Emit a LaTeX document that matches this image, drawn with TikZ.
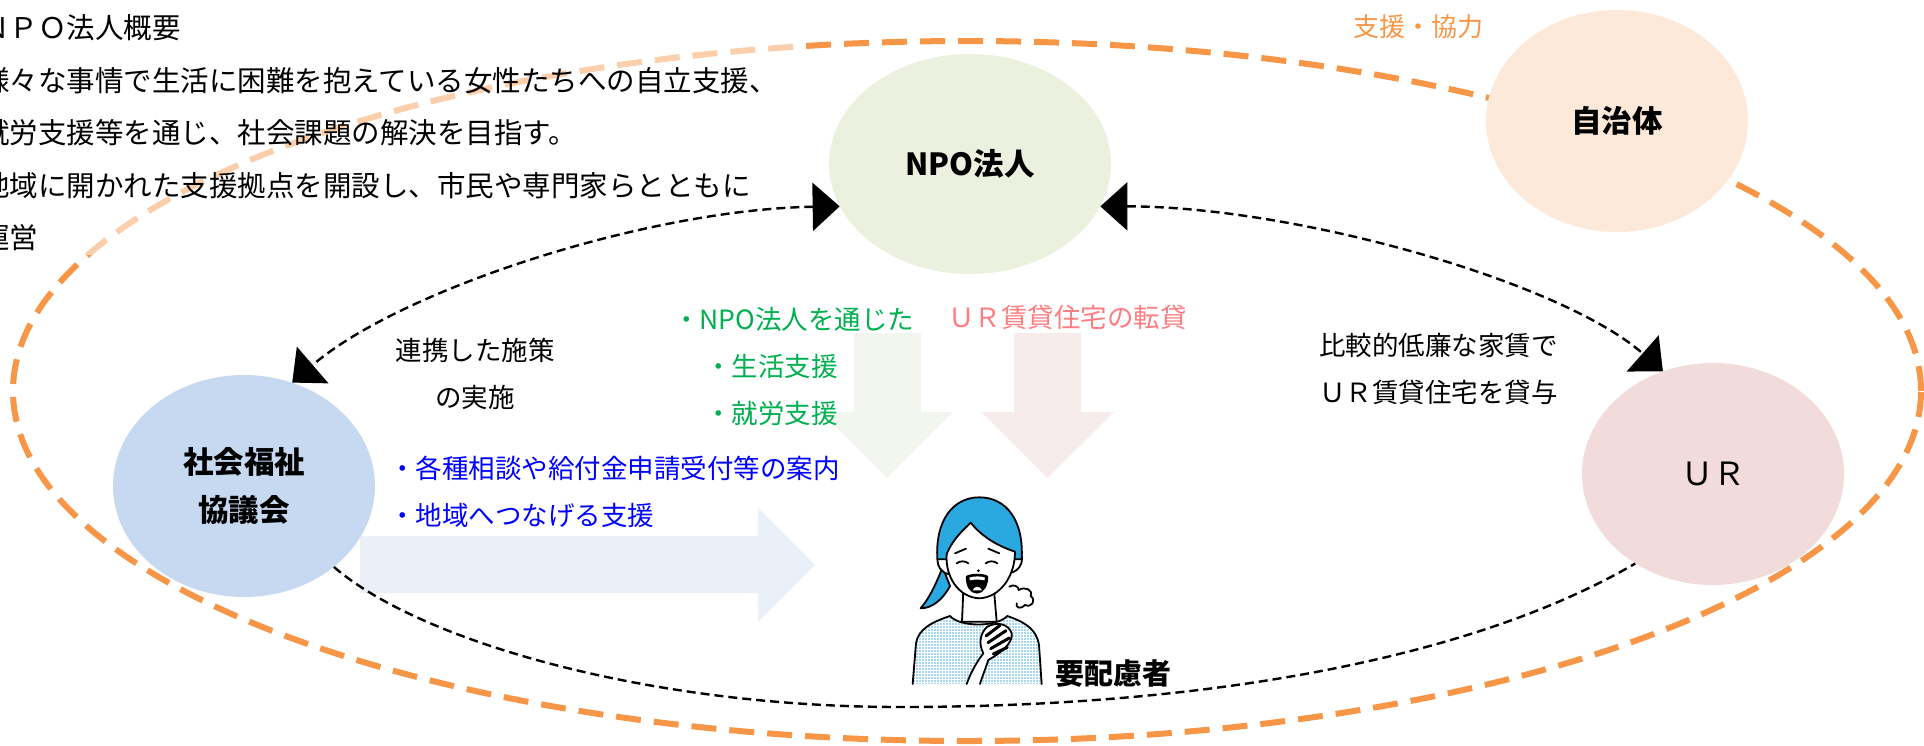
\documentclass[tikz,border=0pt]{standalone}
\usepackage{fontspec}
\setmainfont{Noto Sans CJK JP}
\usetikzlibrary{arrows.meta,shapes.geometric,patterns}

\definecolor{npogreen}{HTML}{EBF1DE}
\definecolor{citypeach}{HTML}{FDE9D9}
\definecolor{welfblue}{HTML}{C6D9F1}
\definecolor{urpink}{HTML}{F2DCDB}
\definecolor{ringorange}{HTML}{F79646}
\definecolor{txtgreen}{HTML}{00B050}
\definecolor{txtpink}{HTML}{FF7C80}
\definecolor{flowblue}{HTML}{EAF0F8}
\definecolor{flowgreen}{HTML}{F3F6EE}
\definecolor{flowpink}{HTML}{F7ECEC}
\definecolor{hairblue}{HTML}{29A9E0}
\definecolor{shirtblue}{HTML}{A3D7F0}

\tikzset{
  party/.style={ellipse, inner sep=0pt, minimum width=262pt, minimum height=222pt,
    align=center, font=\fontsize{30.5}{48}\selectfont\bfseries},
  note/.style={inner sep=0pt, align=left, font=\fontsize{26.5}{47}\selectfont},
  link/.style={line width=2.4pt, dash pattern=on 9pt off 5pt},
  bothtips/.style={{Triangle[length=27pt,width=48pt]}-{Triangle[length=27pt,width=48pt]}},
  ring/.style={ringorange, line width=6pt, dash pattern=on 25pt off 13pt},
}

\begin{document}
\begin{tikzpicture}[x=1pt, y=-1pt]
\useasboundingbox (0,0) rectangle (1924,745);

% outer ring (support / cooperation)
\draw[ring] (967,391) ellipse [x radius=954pt, y radius=350pt];

% pale box behind the outline text
\fill[white, opacity=0.55] (-20,-5) rectangle (800,255);

% broad arrows
\fill[flowblue] (360,536) -- (758,536) -- (758,508) -- (815,565) -- (758,622)
  -- (758,593) -- (360,593) -- cycle;
\fill[flowgreen] (854,333) -- (921,333) -- (921,412) -- (953,412) -- (887,478)
  -- (821,412) -- (854,412) -- cycle;
\fill[flowpink] (1014,333) -- (1081,333) -- (1081,412) -- (1114,412) -- (1047.5,478)
  -- (981,412) -- (1014,412) -- cycle;

% the parties
\node[party, fill=npogreen, minimum width=282pt, minimum height=220pt] (npo) at (970,164) {NPO法人};
\node[party, fill=citypeach] (city) at (1617,121) {自治体};
\node[party, fill=welfblue] (welfare) at (244,486) {社会福祉\\協議会};
\node[party, fill=urpink, font=\fontsize{32}{36}\selectfont] (ur) at (1713,474) {ＵＲ};

% dashed links
\draw[link, bothtips] (npo.198) .. controls +(-192,3) and +(108,-93) .. (welfare.65);
\draw[link, bothtips] (npo.342) .. controls +(194,0) and +(-102,-90) .. (ur.116);
\coordinate (dip) at (900,707);
\draw[link] (welfare.318) .. controls +(87,75) and +(-250,0) .. (dip)
  .. controls +(300,0) and +(-166,97) .. (ur.229);

% texts
\node[note, anchor=west, font=\fontsize{28.5}{52.5}\selectfont] (outline) at (-19,133)
  {ＮＰＯ法人概要\\様々な事情で生活に困難を抱えている女性たちへの自立支援、\\就労支援等を通じ、社会課題の解決を目指す。\\地域に開かれた支援拠点を開設し、市民や専門家らとともに\\運営};
\node[note, text=ringorange, font=\fontsize{26}{30}\selectfont] (help) at (1418,27) {支援・協力};
\node[note, align=center] (joint) at (475,373.5) {連携した施策\\の実施};
\node[note, anchor=west, text=txtgreen] (npoaid) at (673,366)
  {・NPO法人を通じた\\\hspace*{32pt}・生活支援\\\hspace*{32pt}・就労支援};
\node[note, anchor=west, text=blue] (consult) at (389,491.5)
  {・各種相談や給付金申請受付等の案内\\・地域へつなげる支援};
\node[note, text=txtpink] (sublet) at (1067.5,317) {ＵＲ賃貸住宅の転貸};
\node[note, anchor=west] (rent) at (1319,369) {比較的低廉な家賃で\\ＵＲ賃貸住宅を貸与};
\node[inner sep=0pt, font=\fontsize{29}{34}\selectfont\bfseries] (person) at (1113,674) {要配慮者};

% woman holding her chest
\begin{scope}[xshift=900pt, yshift=-480pt, x=0.3333pt, y=-0.3333pt,
    line width=1.8pt, line join=round, line cap=round]
  % ponytail
  \filldraw[fill=hairblue] (128,262) .. controls (112,300) and (95,345) .. (62,385)
    .. controls (95,385) and (128,360) .. (150,318) -- cycle;
  % neck
  \filldraw[fill=white] (190,330) -- (186,425) -- (290,425) -- (282,330) -- cycle;
  % shirt
  \fill[shirtblue] (38,612) -- (48,490) .. controls (55,445) and (100,425) .. (150,408)
    .. controls (180,442) and (290,442) .. (322,408)
    .. controls (370,425) and (410,445) .. (417,495) -- (425,612) -- cycle;
  \fill[pattern=grid, pattern color=white] (38,612) -- (48,490) .. controls (55,445) and (100,425) .. (150,408)
    .. controls (180,442) and (290,442) .. (322,408)
    .. controls (370,425) and (410,445) .. (417,495) -- (425,612) -- cycle;
  \draw (38,612) -- (48,490) .. controls (55,445) and (100,425) .. (150,408)
    .. controls (180,442) and (290,442) .. (322,408)
    .. controls (370,425) and (410,445) .. (417,495) -- (425,612);
  % ears
  \filldraw[fill=white] (140,215) .. controls (105,205) and (100,272) .. (145,282);
  \filldraw[fill=white] (338,212) .. controls (375,200) and (378,268) .. (333,278);
  % hair
  \filldraw[fill=hairblue] (112,238) .. controls (105,120) and (160,52) .. (238,52)
    .. controls (318,52) and (372,120) .. (365,238) -- cycle;
  % face
  \filldraw[fill=white] (140,222) .. controls (160,175) and (190,150) .. (212,128)
    .. controls (250,175) and (300,200) .. (345,215)
    .. controls (345,290) and (300,352) .. (238,355)
    .. controls (175,352) and (135,290) .. (140,222) -- cycle;
  \draw (165,220) -- (198,206);
  \draw (265,206) -- (298,220);
  \draw (170,250) .. controls (180,242) and (195,242) .. (205,250);
  \draw (257,250) .. controls (267,242) and (282,242) .. (292,250);
  \fill (235,272) circle (1.5pt);
  \filldraw[fill=black] (200,290) .. controls (215,282) and (250,282) .. (262,290)
    .. controls (262,318) and (248,338) .. (231,338)
    .. controls (212,338) and (200,318) .. (200,290) -- cycle;
  \fill[white] (208,293) .. controls (220,288) and (245,288) .. (255,293) -- (253,301)
    .. controls (240,298) and (222,298) .. (210,301) -- cycle;
  \fill[white] (218,331) .. controls (222,317) and (242,317) .. (246,331) -- cycle;
  % hand
  \filldraw[fill=white] (200,612) .. controls (215,570) and (235,540) .. (250,520)
    .. controls (235,490) and (240,460) .. (262,440)
    .. controls (290,425) and (325,430) .. (335,460)
    .. controls (340,490) and (300,520) .. (265,540)
    .. controls (255,570) and (245,595) .. (240,612);
  \draw[line width=3pt] (258,468) -- (300,436);
  \draw[line width=3pt] (264,488) -- (318,452);
  \draw[line width=3pt] (272,506) -- (328,474);
  \draw[line width=3pt] (280,522) -- (322,502);
  % breath
  \draw (328,320) .. controls (340,312) and (356,318) .. (356,330)
    .. controls (375,318) and (400,330) .. (392,348)
    .. controls (410,360) and (395,385) .. (375,375)
    .. controls (365,388) and (345,385) .. (350,370);
\end{scope}
\end{tikzpicture}
\end{document}
